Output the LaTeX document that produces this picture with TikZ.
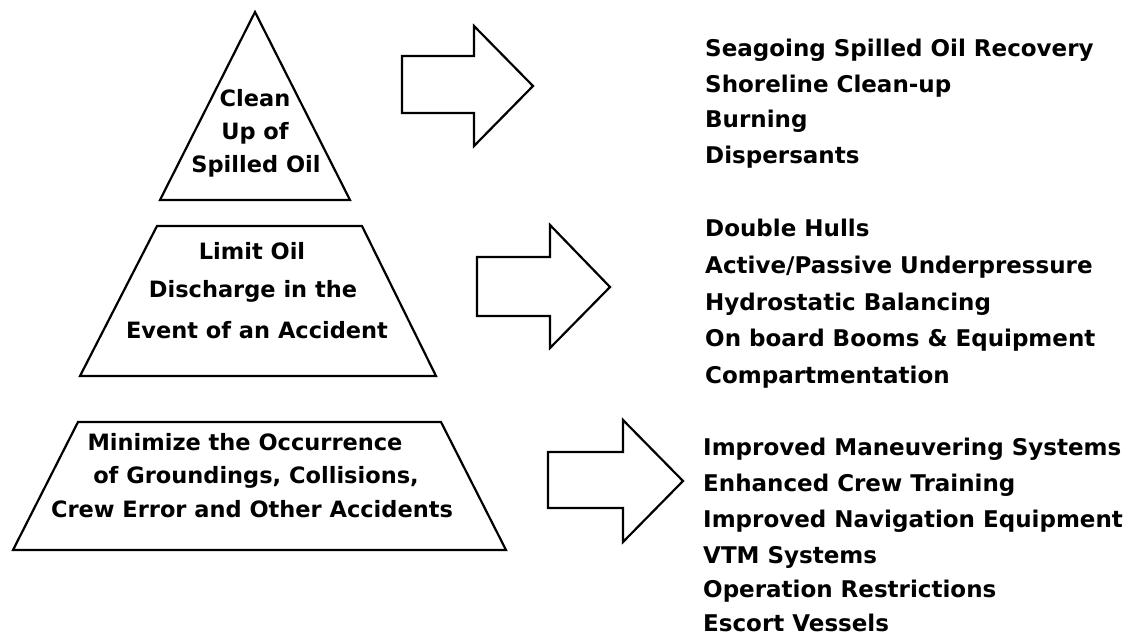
\documentclass[tikz,border=0pt]{standalone}
\usepackage{fontspec}
\setmainfont{DejaVu Sans}
\begin{document}
\begin{tikzpicture}[x=1pt,y=-1pt,
  shapeline/.style={draw=black,line width=2.2pt,line join=miter,fill=white},
  lbl/.style={inner sep=0pt,anchor=base,font=\bfseries\fontsize{22.5}{27}\selectfont},
  item/.style={inner sep=0pt,anchor=base west,font=\bfseries\fontsize{23}{28}\selectfont}]
\useasboundingbox[fill=white] (0,0) rectangle (1132,636);
% pyramid levels
\draw[shapeline] (255,12) -- (350,200) -- (160,200) -- cycle;
\draw[shapeline] (157,226) -- (362,226) -- (436,376) -- (80,376) -- cycle;
\draw[shapeline] (78,422) -- (441,422) -- (506,550) -- (13,550) -- cycle;
% block arrows
\draw[shapeline] (402,56) -- (474,56) -- (474,26) -- (533,86) -- (474,146) -- (474,113) -- (402,113) -- cycle;
\draw[shapeline] (477,257) -- (550,257) -- (550,225) -- (610,287) -- (550,348) -- (550,316) -- (477,316) -- cycle;
\draw[shapeline] (548,452) -- (623,452) -- (623,420) -- (683,481) -- (623,542) -- (623,508) -- (548,508) -- cycle;
% labels in the levels
\node[lbl] (t1) at (255,107) {Clean};
\node[lbl] (t2) at (255,140) {Up of};
\node[lbl] (t3) at (256,173) {Spilled Oil};
\node[lbl] (m1) at (252,260) {Limit Oil};
\node[lbl] (m2) at (253,298) {Discharge in the};
\node[lbl] (m3) at (257,338) {Event of an Accident};
\node[lbl] (b1) at (245,450) {Minimize the Occurrence};
\node[lbl] (b2) at (256,483) {of Groundings, Collisions,};
\node[lbl] (b3) at (252,517) {Crew Error and Other Accidents};
% lists
\node[item] (a1) at (705,57) {Seagoing Spilled Oil Recovery};
\node[item] (a2) at (705,93) {Shoreline Clean-up};
\node[item] (a3) at (705,128) {Burning};
\node[item] (a4) at (705,164) {Dispersants};
\node[item] (c1) at (705,237) {Double Hulls};
\node[item] (c2) at (705,273.5) {Active/Passive Underpressure};
\node[item] (c3) at (705,310) {Hydrostatic Balancing};
\node[item] (c4) at (705,346.5) {On board Booms \& Equipment};
\node[item] (c5) at (705,383) {Compartmentation};
\node[item] (e1) at (703,455) {Improved Maneuvering Systems};
\node[item] (e2) at (703,491.5) {Enhanced Crew Training};
\node[item] (e3) at (703,527.5) {Improved Navigation Equipment};
\node[item] (e4) at (703,563) {VTM Systems};
\node[item] (e5) at (703,597) {Operation Restrictions};
\node[item] (e6) at (703,631) {Escort Vessels};
\end{tikzpicture}
\end{document}
